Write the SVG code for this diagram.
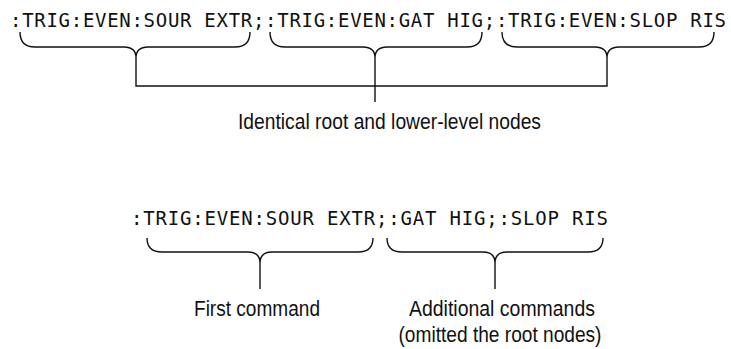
<svg xmlns="http://www.w3.org/2000/svg" width="731" height="349" viewBox="0 0 731 349">
<style>
.mono{font-family:"DejaVu Sans Mono","Liberation Mono",monospace;font-size:19px;fill:#111}
.lbl{font-family:"Liberation Sans",Arial,sans-serif;font-size:22px;fill:#111}
.ln{fill:none;stroke:#111;stroke-width:1.4}
</style>
<rect width="731" height="349" fill="#fff"/>
<g id="cmd-long">
<text class="mono" x="10" y="27" textLength="716" lengthAdjust="spacing">:TRIG:EVEN:SOUR EXTR;:TRIG:EVEN:GAT HIG;:TRIG:EVEN:SLOP RIS</text>
</g>
<g id="cmd-short">
<text class="mono" x="131" y="225" textLength="477" lengthAdjust="spacing">:TRIG:EVEN:SOUR EXTR;:GAT HIG;:SLOP RIS</text>
</g>
<g id="label-identical">
<text class="lbl" x="238" y="129" textLength="303" lengthAdjust="spacingAndGlyphs">Identical root and lower-level nodes</text>
</g>
<g id="label-first">
<text class="lbl" x="257" y="316" text-anchor="middle" textLength="126" lengthAdjust="spacingAndGlyphs">First command</text>
</g>
<g id="label-additional">
<text class="lbl" x="502" y="316" text-anchor="middle" textLength="186" lengthAdjust="spacingAndGlyphs">Additional commands</text>
<text class="lbl" x="500" y="342" text-anchor="middle" textLength="203" lengthAdjust="spacingAndGlyphs">(omitted the root nodes)</text>
</g>
<g id="connectors">
<path class="ln" d="M20,32 Q20,47 35,47 L124,47 Q136,47 136,58 Q136,47 148,47 L235,47 Q250,47 250,32"/>
<path class="ln" d="M270,32 Q270,47 285,47 L363,47 Q375,47 375,58 Q375,47 387,47 L467,47 Q482,47 482,32"/>
<path class="ln" d="M502,32 Q502,47 517,47 L595,47 Q607,47 607,58 Q607,47 619,47 L699,47 Q714,47 714,32"/>
<path class="ln" d="M136,58 V86 H607 V58"/>
<path class="ln" d="M375,58 V102"/>
<path class="ln" d="M147,238 Q147,252 162,252 L248,252 Q260,252 260,263 Q260,252 272,252 L358,252 Q373,252 373,238"/>
<path class="ln" d="M387,238 Q387,252 402,252 L483,252 Q495,252 495,263 Q495,252 507,252 L588,252 Q603,252 603,238"/>
<path class="ln" d="M260,263 V289"/>
<path class="ln" d="M495,263 V289"/>
</g>
</svg>
